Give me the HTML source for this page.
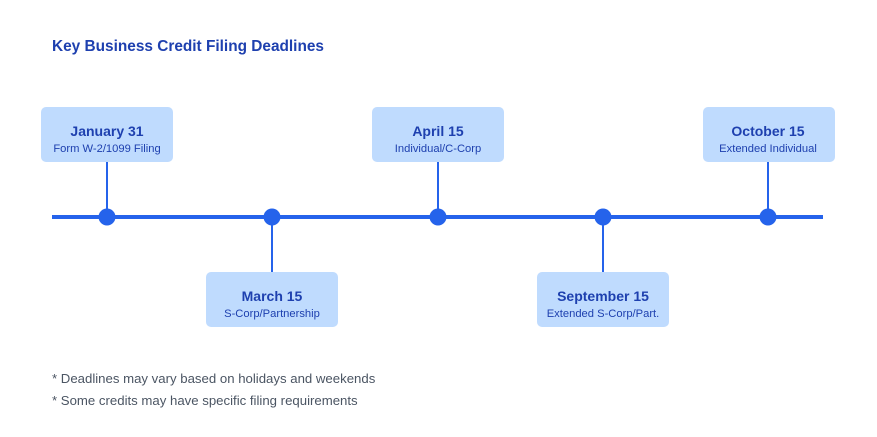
<!DOCTYPE html>
<html><head><meta charset="utf-8"><style>
html,body{margin:0;padding:0;background:#fff;}
svg{display:block;font-family:"Liberation Sans",Arial,sans-serif;}
</style></head><body>
<svg width="877" height="437" viewBox="0 0 877 437" xmlns="http://www.w3.org/2000/svg">
<rect width="877" height="437" fill="#fff"/>
<text x="52" y="51" font-size="15.4" font-weight="bold" fill="#1e40af">Key Business Credit Filing Deadlines</text>
<line x1="52" y1="217" x2="823" y2="217" stroke="#2563eb" stroke-width="4"/>
<g stroke="#2563eb" stroke-width="2">
<line x1="107" y1="162" x2="107" y2="217"/>
<line x1="272" y1="217" x2="272" y2="272"/>
<line x1="438" y1="162" x2="438" y2="217"/>
<line x1="603" y1="217" x2="603" y2="272"/>
<line x1="768" y1="162" x2="768" y2="217"/>
</g>
<g fill="#2563eb">
<circle cx="107" cy="217" r="8.5"/><circle cx="272" cy="217" r="8.5"/><circle cx="438" cy="217" r="8.5"/><circle cx="603" cy="217" r="8.5"/><circle cx="768" cy="217" r="8.5"/>
</g>
<g fill="#bfdbfe">
<rect x="41" y="107" width="132" height="55" rx="5"/>
<rect x="206" y="272" width="132" height="55" rx="5"/>
<rect x="372" y="107" width="132" height="55" rx="5"/>
<rect x="537" y="272" width="132" height="55" rx="5"/>
<rect x="703" y="107" width="132" height="55" rx="5"/>
</g>
<g fill="#1e40af" text-anchor="middle">
<text x="107" y="136" font-size="14" font-weight="bold">January 31</text>
<text x="107" y="152" font-size="11.2">Form W-2/1099 Filing</text>
<text x="272" y="301" font-size="14" font-weight="bold">March 15</text>
<text x="272" y="317" font-size="11.2">S-Corp/Partnership</text>
<text x="438" y="136" font-size="14" font-weight="bold">April 15</text>
<text x="438" y="152" font-size="11.2">Individual/C-Corp</text>
<text x="603" y="301" font-size="14" font-weight="bold">September 15</text>
<text x="603" y="317" font-size="11.2">Extended S-Corp/Part.</text>
<text x="768" y="136" font-size="14" font-weight="bold">October 15</text>
<text x="768" y="152" font-size="11.2">Extended Individual</text>
</g>
<g fill="#4b5563" font-size="13.2">
<text x="52" y="383">* Deadlines may vary based on holidays and weekends</text>
<text x="52" y="405">* Some credits may have specific filing requirements</text>
</g>
</svg>
</body></html>
